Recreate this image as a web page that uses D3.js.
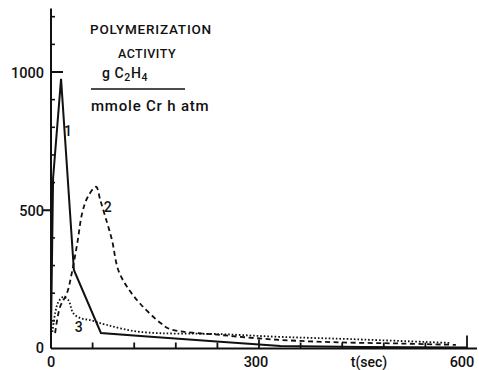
<!DOCTYPE html>
<html>
<head>
<meta charset="utf-8">
<script src="https://cdn.jsdelivr.net/npm/d3@7"></script>
<style>
  html, body { margin: 0; padding: 0; background: #fff; }
  svg text { font-family: Roboto, "DejaVu Sans", sans-serif; font-weight: 500; fill: #111; }
</style>
</head>
<body>
<div id="chart"></div>
<script>
// Polymerization activity vs time, three runs (1 solid, 2 dashed, 3 dotted)

const series1 = [ // solid
  [0, 55], [3, 616], [14.5, 975], [33, 284], [72, 56], [129, 45],
  [244, 24], [331, 9], [450, 5], [600, 4]
];
const series2 = [ // dashed
  [6, 56], [13, 150], [23, 200], [30, 273], [38, 382], [45, 490], [53, 548],
  [65, 585], [71, 537], [81, 454], [88, 392], [97, 284], [110, 222],
  [129, 161], [158, 92], [172, 70], [244, 49], [331, 31], [420, 22],
  [505, 18], [584, 13]
];
const series3 = [ // dotted
  [2, 60], [6, 128], [10, 165], [17, 186], [25, 175], [32, 128], [42, 110],
  [56, 103], [81, 85], [129, 60], [244, 52], [331, 42], [432, 34], [577, 20]
];

const curveLabels = [
  { text: '1', t: 24.5, v: 770 },
  { text: '2', t: 82, v: 493 },
  { text: '3', t: 40, v: 60 }
];

const xMinorTicks = [60, 120, 180, 240, 360, 420, 480, 540];
const xLabelTicks = [0, 300, 600];
const yMinorTicks = [100, 200, 300, 400, 600, 700, 800, 900, 1100, 1200];
const yLabelTicks = [0, 500, 1000];

const width = 479, height = 370;
const svg = d3.select('#chart').append('svg')
  .attr('width', width).attr('height', height);

const x = d3.scaleLinear().domain([0, 600]).range([51, 467]);
const y = d3.scaleLinear().domain([0, 1000]).range([348.5, 72]);

const axisG = svg.append('g').attr('stroke', '#111').attr('fill', 'none');

// axis lines
axisG.append('line')
  .attr('x1', x(0)).attr('x2', x(0))
  .attr('y1', y(0)).attr('y2', y(1230))
  .attr('stroke-width', 2);
axisG.append('line')
  .attr('x1', x(0)).attr('x2', 477)
  .attr('y1', y(0)).attr('y2', y(0))
  .attr('stroke-width', 2);

// x ticks point up into the plot
axisG.selectAll('.xminor').data(xMinorTicks).join('line')
  .attr('x1', d => x(d)).attr('x2', d => x(d))
  .attr('y1', y(0)).attr('y2', y(0) - 6)
  .attr('stroke-width', 1.8);
axisG.selectAll('.xmajor').data([300, 600]).join('line')
  .attr('x1', d => x(d)).attr('x2', d => x(d))
  .attr('y1', y(0)).attr('y2', d => y(0) - (d === 600 ? 13 : 9))
  .attr('stroke-width', 1.8);

// y ticks
axisG.selectAll('.yminor').data(yMinorTicks).join('line')
  .attr('x1', x(0)).attr('x2', x(0) + 4)
  .attr('y1', d => y(d)).attr('y2', d => y(d))
  .attr('stroke-width', 1.6);
axisG.append('line')
  .attr('x1', x(0) - 8).attr('x2', x(0))
  .attr('y1', y(500)).attr('y2', y(500))
  .attr('stroke-width', 2);
axisG.append('line')
  .attr('x1', x(0)).attr('x2', x(0) + 12)
  .attr('y1', y(1000)).attr('y2', y(1000))
  .attr('stroke-width', 2);

// tick labels
svg.selectAll('.ylab').data(yLabelTicks).join('text')
  .attr('x', 44).attr('y', d => y(d) + (d === 0 ? 4 : 6))
  .attr('text-anchor', 'end')
  .attr('font-size', 14.5)
  .text(d => d);

svg.selectAll('.xlab').data(xLabelTicks).join('text')
  .attr('x', d => x(d) + (d === 0 ? 0 : d === 300 ? -3 : -5))
  .attr('y', 367)
  .attr('text-anchor', 'middle')
  .attr('font-size', 14.5)
  .text(d => d);

svg.append('text')
  .attr('x', 369).attr('y', 367)
  .attr('text-anchor', 'middle')
  .attr('font-size', 14)
  .text('t(sec)');

// title block
const title = svg.append('g').attr('font-size', 13.5);
title.append('text').attr('x', 151).attr('y', 34).attr('text-anchor', 'middle')
  .attr('letter-spacing', 0.8).text('POLYMERIZATION');
title.append('text').attr('x', 147).attr('y', 58).attr('text-anchor', 'middle')
  .attr('font-size', 12.5).attr('letter-spacing', 0.5).text('ACTIVITY');
const frac = title.append('text').attr('x', 102).attr('y', 78)
  .attr('font-size', 14).attr('letter-spacing', 0.6);
frac.append('tspan').text('g C');
frac.append('tspan').attr('font-size', 10.5).attr('dy', 3).text('2');
frac.append('tspan').attr('dy', -3).text('H');
frac.append('tspan').attr('font-size', 10.5).attr('dy', 3).text('4');
svg.append('line')
  .attr('x1', 91).attr('x2', 185).attr('y1', 89).attr('y2', 89)
  .attr('stroke', '#111').attr('stroke-width', 1.5);
title.append('text').attr('x', 91).attr('y', 111)
  .attr('font-size', 15).attr('letter-spacing', 0.8).text('mmole Cr h atm');

// curves
const line = d3.line().x(d => x(d[0])).y(d => y(d[1]));
const smooth = d3.line().x(d => x(d[0])).y(d => y(d[1])).curve(d3.curveCatmullRom);

svg.append('path').attr('d', line(series1))
  .attr('fill', 'none').attr('stroke', '#111').attr('stroke-width', 2);
svg.append('path').attr('d', smooth(series2))
  .attr('fill', 'none').attr('stroke', '#111').attr('stroke-width', 1.8)
  .attr('stroke-dasharray', '5 3.5');
svg.append('path').attr('d', smooth(series3))
  .attr('fill', 'none').attr('stroke', '#111').attr('stroke-width', 1.8)
  .attr('stroke-dasharray', '1.6 2');

svg.selectAll('.clab').data(curveLabels).join('text')
  .attr('x', d => x(d.t)).attr('y', d => y(d.v))
  .attr('text-anchor', 'middle')
  .attr('font-size', 14)
  .text(d => d.text);
</script>
</body>
</html>
